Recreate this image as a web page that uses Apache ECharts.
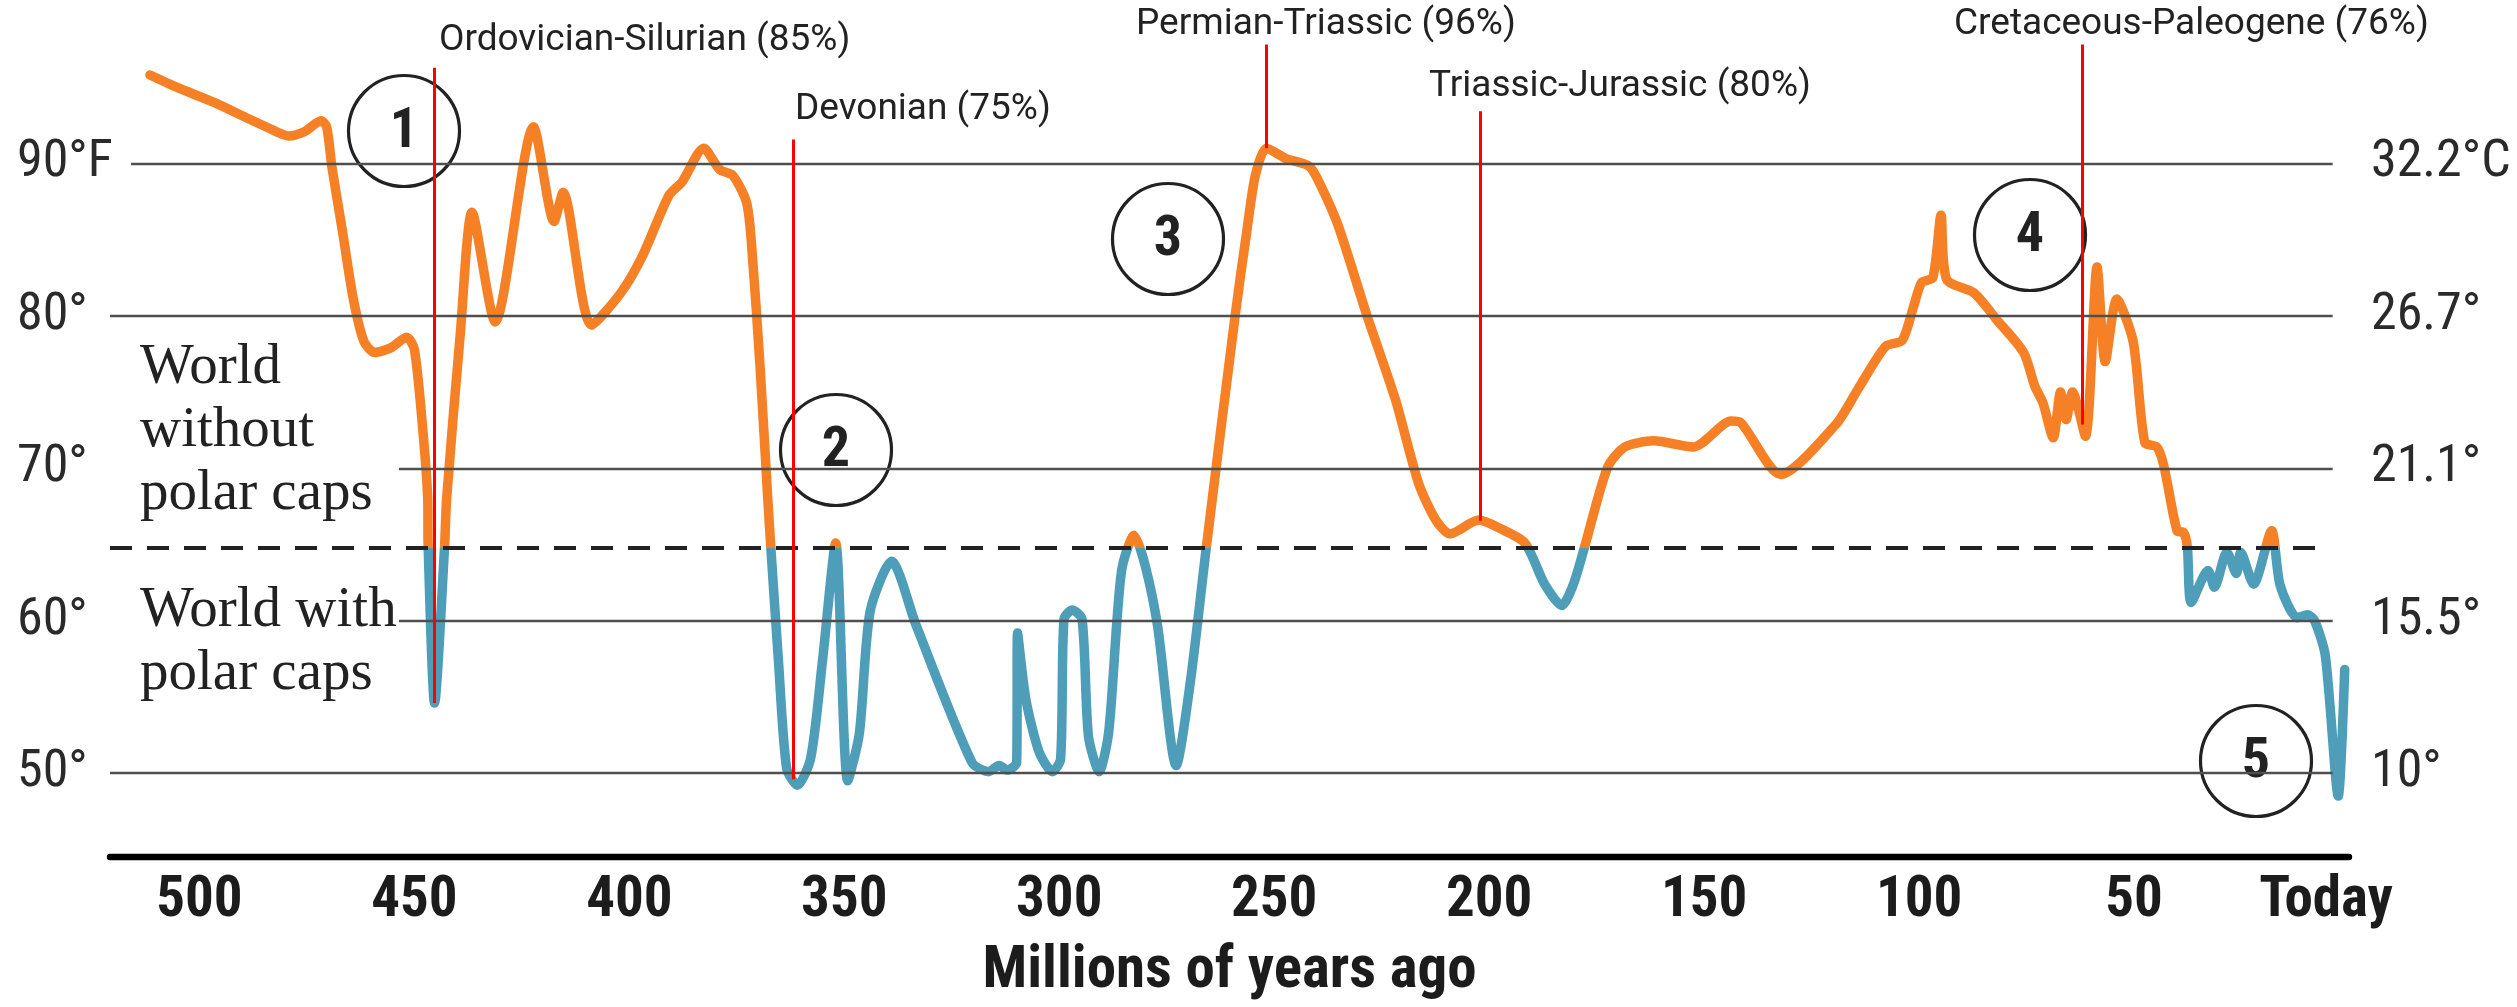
<!DOCTYPE html>
<html>
<head>
<meta charset="utf-8">
<script src="https://cdn.jsdelivr.net/npm/echarts@6/dist/echarts.min.js"></script>
<style>
  html, body { margin: 0; padding: 0; background: #ffffff; }
  #chart { width: 2517px; height: 1007px; }
</style>
</head>
<body>
<div id="chart"></div>
<script>
// Global average temperature over the last ~510 million years (°F).
const ages = [
  511.5, 505.3, 496.6, 489.1, 484.1, 479.2, 475.5, 471.7, 470.4, 469.2,
  466.7, 464.2, 461.7, 459.2, 455.5, 451.8, 450.0, 448.0, 446.9, 446.8,
  445.3, 443.0, 442.5, 439.3, 436.6, 431.2, 422.3, 417.5, 415.4, 408.8,
  402.0, 397.0, 390.8, 387.7, 382.7, 379.0, 375.9, 372.7, 371.5, 369.6,
  367.8, 367.1, 365.3, 363.4, 360.9, 357.8, 355.1, 352.0, 349.2, 346.5,
  344.0, 339.0, 333.3, 320.3, 316.4, 314.0, 312.1, 309.9, 309.7, 307.8,
  304.7, 301.6, 299.7, 298.9, 297.0, 294.7, 293.2, 290.7, 288.5, 286.5,
  285.3, 282.6, 280.0, 277.1, 272.8, 269.5, 265.8, 259.1, 256.4, 254.4,
  251.8, 247.1, 241.8, 239.1, 235.1, 228.4, 221.8, 216.4, 212.4, 209.1,
  202.4, 197.8, 191.7, 187.1, 183.1, 180.4, 177.8, 172.4, 168.4, 161.8,
  152.5, 143.7, 141.5, 132.2, 119.3, 114.2, 107.8, 103.9, 101.3, 99.4,
  96.8, 94.9, 93.6, 87.2, 82.1, 75.7, 73.1, 71.2, 68.8, 67.1,
  65.8, 64.3, 61.3, 58.6, 56.7, 54.0, 50.2, 47.5, 44.7, 43.1,
  40.0, 38.5, 37.6, 36.7, 32.8, 31.3, 28.4, 26.2, 25.2, 22.2,
  18.0, 16.0, 12.0, 9.7, 8.0, 5.5, 2.5, 1.0
];
const tempF = [
  95.8, 95.0, 94.0, 93.0, 92.35, 91.8, 92.1, 92.8, 92.4, 89.8,
  85.5, 81.1, 78.3, 77.6, 77.9, 78.6, 77.8, 72.4, 68.0, 64.85,
  54.6, 64.7, 68.0, 78.9, 86.8, 79.6, 92.4, 86.2, 88.1, 79.4,
  81.5, 83.9, 87.9, 88.8, 91.0, 89.6, 89.2, 87.4, 84.4, 76.7,
  68.0, 64.85, 57.3, 50.3, 49.2, 51.0, 57.3, 65.1, 49.5, 52.6,
  60.6, 63.9, 59.7, 50.7, 50.1, 50.5, 50.2, 50.7, 59.2, 54.9,
  51.4, 50.1, 50.9, 60.1, 60.7, 60.1, 52.4, 50.1, 52.7, 60.3,
  63.6, 65.6, 63.6, 59.6, 50.5, 56.0, 64.8, 80.0, 85.5, 89.2,
  91.0, 90.3, 89.8, 88.5, 85.9, 80.0, 74.5, 69.0, 66.6, 65.7,
  66.6, 66.1, 65.1, 62.4, 61.0, 62.4, 64.85, 70.1, 71.4, 71.8,
  71.4, 73.1, 73.0, 69.6, 72.9, 75.2, 78.0, 78.4, 80.6, 82.2,
  82.5, 86.6, 82.4, 81.5, 79.8, 77.6, 75.4, 74.3, 72.0, 75.0,
  73.2, 75.0, 72.1, 83.2, 77.0, 81.1, 78.3, 71.7, 71.4, 70.2,
  65.9, 65.8, 64.85, 61.2, 63.3, 62.2, 64.5, 63.1, 64.5, 62.4,
  65.9, 62.3, 60.2, 60.4, 60.0, 57.7, 48.5, 56.8
];

// Axis ticks and their texts
const tickAges = [500, 450, 400, 350, 300, 250, 200, 150, 100, 50, 0];
const tempTicksF = [50, 60, 70, 80, 90];
const labelsF = ['50°', '60°', '70°', '80°', '90°F'];
const labelsC = ['10°', '15.5°', '21.1°', '26.7°', '32.2°C'];

// Temperature above which the planet has no polar ice caps (°F)
const polarCapLine = 64.8;

// Mass extinctions: name, share of species lost, age (Ma)
const extinctions = ['Ordovician-Silurian', 'Devonian', 'Permian-Triassic', 'Triassic-Jurassic', 'Cretaceous-Paleogene'];
const extinctionLoss = [85, 75, 96, 80, 76];
const extinctionAge = [445.3, 361.8, 251.8, 202.0, 62.1];

// Numbered episodes
const episodes = ['1', '2', '3', '4', '5'];

// ---------------------------------------------------------------
const ORANGE = '#F58025';
const BLUE = '#4E9DB9';
const INK = '#222222';
const GRID = '#4f4f4f';
const NARROW = '"Liberation Sans Narrow", "Roboto Condensed", "DejaVu Sans Condensed", Roboto, sans-serif';

const X_MIN = 0, X_MAX = 520.8;
const Y_MIN = 44.5, Y_MAX = 100;

function tempAt(age) {
  for (let i = 0; i < ages.length - 1; i++) {
    if (ages[i] >= age && age >= ages[i + 1]) {
      const t = (ages[i] - age) / (ages[i] - ages[i + 1]);
      return tempF[i] + t * (tempF[i + 1] - tempF[i]);
    }
  }
  return tempF[tempF.length - 1];
}

const seriesData = ages.map((a, i) => [a, tempF[i]]);

// horizontal reference lines: [value, start age, end age]
const gridStarts = { 90: 515.9, 80: 520.8, 70: 453.6, 60: 453.6, 50: 520.8 };
const gridLines = tempTicksF.map(v => [
  { coord: [gridStarts[v], v] },
  { coord: [3.8, v] }
]);
gridLines.push([
  { coord: [X_MAX, polarCapLine], lineStyle: { type: [22, 15], width: 4, color: INK } },
  { coord: [6.4, polarCapLine] }
]);

// red markers rise from the curve to just under each label
const markerTops = [96.27, 91.57, 97.8, 93.43, 97.8];
const redLines = extinctionAge.map((a, i) => [
  { coord: [a, markerTops[i]] },
  { coord: [a, tempAt(a)] }
]);

// label placement (pixels: left edge, vertical middle)
const labelPos = [[439, 41], [795, 110], [1136, 25], [1429, 87], [1954, 25]];
// episode circles (pixels: centre)
const circlePos = [[404, 131], [836, 450], [1168, 239], [2030, 235], [2256, 761]];

const graphics = [];
extinctions.forEach((name, i) => {
  graphics.push({
    type: 'text', x: labelPos[i][0], y: labelPos[i][1], z: 10, silent: true,
    style: {
      text: name + ' (' + extinctionLoss[i] + '%)',
      fontFamily: 'Roboto', fontSize: 37, fill: INK,
      align: 'left', verticalAlign: 'middle'
    }
  });
});
episodes.forEach((n, i) => {
  graphics.push({
    type: 'circle', x: circlePos[i][0], y: circlePos[i][1], z: 3, silent: true,
    shape: { cx: 0, cy: 0, r: 55.5 },
    style: { fill: '#ffffff', stroke: INK, lineWidth: 3.2 }
  });
  graphics.push({
    type: 'text', x: circlePos[i][0], y: circlePos[i][1] + 2, z: 4, silent: true,
    style: {
      text: n, fontFamily: NARROW, fontWeight: 'bold', fontSize: 56, fill: INK,
      align: 'center', verticalAlign: 'middle'
    }
  });
});
graphics.push({
  type: 'text', x: 140, y: 431, z: 4, silent: true,
  style: {
    text: 'World\nwithout\npolar caps', fontFamily: '"Liberation Serif", serif',
    fontSize: 57, lineHeight: 63, fill: INK, align: 'left', verticalAlign: 'middle'
  }
});
graphics.push({
  type: 'text', x: 140, y: 643, z: 4, silent: true,
  style: {
    text: 'World with\npolar caps', fontFamily: '"Liberation Serif", serif',
    fontSize: 57, lineHeight: 63, fill: INK, align: 'left', verticalAlign: 'middle'
  }
});

const chart = echarts.init(document.getElementById('chart'), null, { renderer: 'canvas' });
chart.setOption({
  animation: false,
  backgroundColor: '#ffffff',
  grid: { left: 110, right: 168, top: 11, bottom: 148.6 },
  xAxis: {
    type: 'value', inverse: true, min: X_MIN, max: X_MAX,
    axisLine: { show: true, onZero: false, lineStyle: { color: '#000000', width: 6.4 } },
    axisTick: { show: false },
    splitLine: { show: false },
    axisLabel: {
      customValues: tickAges,
      margin: 16,
      fontFamily: NARROW, fontWeight: 'bold', fontSize: 57, color: '#1c1c1c',
      formatter: v => v === 0 ? '{t|Today}' : String(v),
      rich: { t: { fontFamily: NARROW, fontWeight: 'bold', fontSize: 57, color: '#1c1c1c', padding: [0, 46, 0, 0] } }
    },
    name: 'Millions of years ago',
    nameLocation: 'middle',
    nameGap: 86,
    nameTextStyle: { fontFamily: NARROW, fontWeight: 'bold', fontSize: 59, color: '#1c1c1c' }
  },
  yAxis: [
    {
      type: 'value', min: Y_MIN, max: Y_MAX, position: 'left',
      axisLine: { show: false }, axisTick: { show: false }, splitLine: { show: false },
      axisLabel: {
        customValues: tempTicksF,
        formatter: v => labelsF[tempTicksF.indexOf(v)],
        align: 'left', margin: 93,
        fontFamily: NARROW, fontSize: 52, color: '#2a2a2a'
      }
    },
    {
      type: 'value', min: Y_MIN, max: Y_MAX, position: 'right',
      axisLine: { show: false }, axisTick: { show: false }, splitLine: { show: false },
      axisLabel: {
        customValues: tempTicksF,
        formatter: v => labelsC[tempTicksF.indexOf(v)],
        align: 'left', margin: 22,
        fontFamily: NARROW, fontSize: 52, color: '#2a2a2a'
      }
    }
  ],
  visualMap: {
    type: 'piecewise', show: false, dimension: 1, seriesIndex: 0,
    pieces: [
      { gte: Y_MIN - 20, lt: polarCapLine, color: BLUE },
      { gte: polarCapLine, lte: Y_MAX + 20, color: ORANGE }
    ]
  },
  series: [
    {
      name: 'Temperature', type: 'line', data: seriesData, z: 4,
      symbol: 'none', smooth: 0.25,
      lineStyle: { width: 9.5, cap: 'round', join: 'round' }
    },
    {
      name: 'Reference lines', type: 'line', data: [], z: 1,
      markLine: {
        silent: true, symbol: ['none', 'none'], label: { show: false },
        lineStyle: { color: GRID, width: 2.4, type: 'solid' },
        data: gridLines
      }
    },
    {
      name: 'Extinctions', type: 'line', data: [], z: 6,
      markLine: {
        silent: true, symbol: ['none', 'none'], label: { show: false },
        lineStyle: { color: '#ff0000', width: 3, type: 'solid' },
        data: redLines
      }
    }
  ],
  graphic: graphics
});
</script>
</body>
</html>
